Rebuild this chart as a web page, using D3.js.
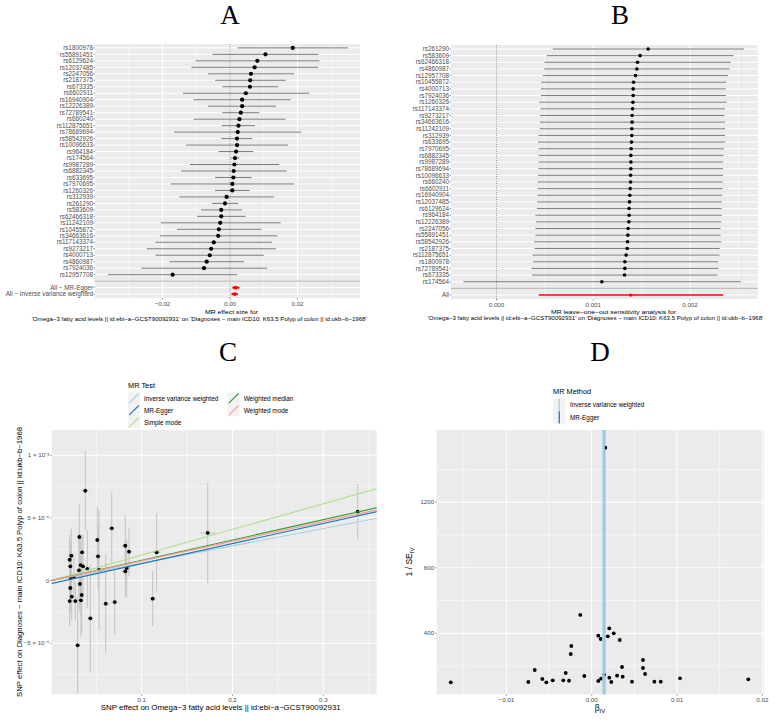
<!DOCTYPE html>
<html><head><meta charset="utf-8">
<script src="https://cdn.jsdelivr.net/npm/d3@7"></script>
<style>body{margin:0;background:#fff}svg{display:block}</style>
</head><body>
<svg id="chart" width="776" height="723"></svg>
<script>
// ---------------- DATA ----------------
// Panel A: single-SNP forest plot
const snpsA = ["rs1800978","rs55891451","rs6129624","rs12037485","rs2247056","rs2187375","rs673335","rs6602911","rs16940904","rs12226389","rs72789541","rs660240","rs112875651","rs78689694","rs58542926","rs10096633","rs964184","rs174564","rs9987289","rs6882345","rs633695","rs7970695","rs1260326","rs312939","rs261290","rs583609","rs62466318","rs11242109","rs10455872","rs34663616","rs117143374","rs9273217","rs4000713","rs4860987","rs7924036","rs12957708"];
const bA  = [0.0186,0.0105,0.0081,0.0073,0.0062,0.0060,0.0059,0.0047,0.0036,0.0036,0.0032,0.0028,0.0025,0.0023,0.0021,0.0021,0.0018,0.0015,0.0013,0.0011,0.0010,0.0007,0.0007,-0.0010,-0.0015,-0.0026,-0.0026,-0.0029,-0.0033,-0.0035,-0.0048,-0.0056,-0.0060,-0.0069,-0.0077,-0.0170];
const loA = [0.0023,-0.0052,-0.0102,-0.0114,-0.0065,-0.0044,-0.0023,-0.0139,-0.0108,-0.0065,-0.0023,-0.0108,-0.0024,-0.0166,-0.0026,-0.0130,-0.0034,0.0002,-0.0119,-0.0145,-0.0044,-0.0175,-0.0044,-0.0150,-0.0053,-0.0086,-0.0098,-0.0205,-0.0157,-0.0208,-0.0221,-0.0246,-0.0221,-0.0180,-0.0263,-0.0361];
const hiA = [0.0349,0.0262,0.0265,0.0261,0.0190,0.0165,0.0143,0.0234,0.0180,0.0136,0.0087,0.0165,0.0074,0.0211,0.0066,0.0172,0.0069,0.0028,0.0146,0.0168,0.0064,0.0190,0.0058,0.0131,0.0024,0.0036,0.0046,0.0150,0.0093,0.0140,0.0125,0.0136,0.0100,0.0042,0.0110,0.0021];
const allLabelsA = ["All \u2212 MR-Egger","All \u2212 Inverse variance weighted"];
const allBA  = [0.0016, 0.0014];
const allLoA = [0.0007, 0.00044];
const allHiA = [0.0028, 0.00234];
const ticksA = [-0.02, 0.00, 0.02];
const tickLabelsA = ["\u22120.02","0.00","0.02"];

// Panel B: leave-one-out
const snpsB = ["rs261290","rs583609","rs62466318","rs4860987","rs12957708","rs10455872","rs4000713","rs7924036","rs1260326","rs117143374","rs9273217","rs34663616","rs11242109","rs312939","rs633695","rs7970695","rs6882345","rs9987289","rs78689694","rs10096633","rs660240","rs6602911","rs16940904","rs12037485","rs6129624","rs964184","rs12226389","rs2247056","rs55891451","rs58542926","rs2187375","rs112875651","rs1800978","rs72789541","rs673335","rs174564"];
const bB  = [1.568,1.485,1.458,1.451,1.437,1.417,1.413,1.413,1.410,1.406,1.402,1.402,1.399,1.399,1.396,1.392,1.389,1.389,1.389,1.386,1.386,1.382,1.378,1.375,1.371,1.371,1.368,1.361,1.358,1.355,1.351,1.340,1.327,1.327,1.324,1.089].map(v=>v/1000);
const loB = [0.582,0.520,0.496,0.492,0.479,0.461,0.461,0.461,0.441,0.455,0.448,0.448,0.448,0.434,0.430,0.437,0.437,0.437,0.434,0.430,0.427,0.424,0.424,0.420,0.417,0.403,0.410,0.403,0.403,0.389,0.393,0.372,0.378,0.362,0.368,-0.341].map(v=>v/1000);
const hiB = [2.557,2.451,2.423,2.410,2.392,2.374,2.371,2.371,2.379,2.361,2.358,2.361,2.364,2.361,2.364,2.351,2.347,2.343,2.343,2.340,2.340,2.337,2.333,2.330,2.327,2.330,2.323,2.316,2.316,2.323,2.309,2.306,2.289,2.296,2.285,2.526].map(v=>v/1000);
const allLabelsB = ["All"];
const allBB = [0.001386], allLoB = [0.000437], allHiB = [0.002343];
const ticksB = [0.000, 0.001, 0.002];
const tickLabelsB = ["0.000","0.001","0.002"];

// Panel C: scatter (SNP effect on exposure vs outcome)
const bxC = [0.0379,0.0313,0.0511,0.0670,0.0207,0.0225,0.0214,0.0343,0.0328,0.0354,0.0309,0.0401,0.0519,0.0819,0.0860,0.0835,0.0819,0.1165,0.1727,0.3379,0.0218,0.0254,0.0530,0.0214,0.0320,0.0229,0.0339,0.0207,0.0269,0.0331,0.0604,0.0703,0.1121,0.0434,0.0295];
const byC = [7.17,3.48,3.24,4.17,1.67,1.99,1.14,2.26,1.24,1.14,0.82,0.93,1.94,2.78,2.31,1.00,0.74,2.26,3.80,5.50,0.23,0.31,0.85,-0.59,-0.27,-1.28,-1.15,-1.63,-1.63,-1.57,-1.84,-1.71,-1.44,-3.01,-5.16].map(v=>v/10000);
const seByC = [3.15,2.60,2.70,2.85,1.99,2.16,2.06,1.45,2.43,2.51,3.00,3.10,2.68,2.40,1.95,2.29,2.13,3.10,4.00,2.20,1.78,1.73,4.80,1.94,2.30,1.89,3.00,2.00,1.53,2.90,3.90,2.57,2.20,4.30,3.85].map(v=>v/10000);
const seBxC = [0.004,0.003,0.003,0.003,0.003,0.003,0.003,0.003,0.003,0.003,0.003,0.003,0.003,0.004,0.004,0.004,0.004,0.004,0.009,0.004,0.003,0.003,0.003,0.003,0.003,0.003,0.003,0.003,0.003,0.003,0.004,0.004,0.004,0.003,0.003];
const methodsC = ["Inverse variance weighted","MR-Egger","Simple mode","Weighted median","Weighted mode"];
const slopesC = [0.001385, 0.00160, 0.002043, 0.001621, 0.00157];
const interceptsC = [0, -0.000024, 0, 0, 0];
const colorsC = ["#A6CEE3","#1F78B4","#B2DF8A","#33A02C","#FB9A99"];
const ticksCx = [0.1,0.2,0.3];
const ticksCy = [0.001,0.0005,0,-0.0005];
const tickLabelsCy = ["1 \u00d7 10\u207b\u00b3","5 \u00d7 10\u207b\u2074","0","\u22125 \u00d7 10\u207b\u2074"];

// Panel D: funnel plot
const betaD = [-0.01652,-0.00743,-0.00668,-0.00579,-0.00532,-0.00457,-0.00333,-0.00305,-0.00266,-0.00246,-0.00239,-0.00134,-0.00087,0.00077,0.00105,0.00077,0.00109,0.00144,0.00188,0.00206,0.00206,0.00230,0.00258,0.00297,0.00328,0.00355,0.00363,0.00472,0.00601,0.00601,0.00625,0.00734,0.00809,0.01035,0.01835,0.00159];
const precD = [100.8,102.6,175.9,120.9,100.8,113,113,157.6,110.5,273.6,322.4,511.8,139.2,385.3,365.2,108.7,122.7,147.2,381.7,430.5,128.9,102.6,400,141.1,359.1,194.2,135,104.4,237,188.1,151.5,104.4,104.4,125.2,119.1,1533];
const methodsD = ["Inverse variance weighted","MR-Egger"];
const estD = [0.001386, 0.00150];
const colorsD = ["#A6CEE3","#1F78B4"];
const ticksDx = [-0.01,0.00,0.01,0.02];
const tickLabelsDx = ["\u22120.01","0.00","0.01","0.02"];
const ticksDy = [400,800,1200];

// ---------------- DRAWING ----------------
const FONT = "'Liberation Sans', Arial, Helvetica, sans-serif";
const svg = d3.select("#chart").attr("font-family", FONT);
const BG = "#EBEBEB", TXT = "#4D4D4D";

function title(t, x, y){
  svg.append("text").attr("x",x).attr("y",y).attr("text-anchor","middle")
    .attr("font-family","'Liberation Serif','Times New Roman',serif").attr("font-size",27).attr("fill","#000").text(t);
}
title("A",230,24); title("B",620,24); title("C",228,361); title("D",600,361);

function caption(text, x1, x2, y, fs){
  svg.append("text").attr("x",x1).attr("y",y).attr("font-size",fs).attr("fill","#000")
    .attr("textLength",x2-x1).attr("lengthAdjust","spacingAndGlyphs").text(text);
}

function forest(o){
  const g = svg.append("g");
  const x = d3.scaleLinear().domain(o.xdom).range([o.x0,o.x1]);
  const labels = o.snps.concat([""]).concat(o.allLabels);
  const y = d3.scalePoint().domain(labels).range([o.y0,o.y1]).padding(0.6);
  g.append("rect").attr("x",o.x0).attr("y",o.y0).attr("width",o.x1-o.x0).attr("height",o.y1-o.y0).attr("fill",BG);
  o.minors.forEach(v=>g.append("line").attr("x1",x(v)).attr("x2",x(v)).attr("y1",o.y0).attr("y2",o.y1).attr("stroke","#fff").attr("stroke-width",0.5));
  o.ticks.forEach(v=>g.append("line").attr("x1",x(v)).attr("x2",x(v)).attr("y1",o.y0).attr("y2",o.y1).attr("stroke","#fff").attr("stroke-width",1));
  labels.forEach(l=>g.append("line").attr("x1",o.x0).attr("x2",o.x1).attr("y1",y(l)).attr("y2",y(l)).attr("stroke","#fff").attr("stroke-width",1));
  g.append("line").attr("x1",x(0)).attr("x2",x(0)).attr("y1",o.y0).attr("y2",o.y1).attr("stroke","#555").attr("stroke-width",0.7).attr("stroke-dasharray","1,1.3");
  o.snps.forEach((s,i)=>{
    g.append("line").attr("x1",x(Math.max(o.lo[i],o.xdom[0]))).attr("x2",x(Math.min(o.hi[i],o.xdom[1]))).attr("y1",y(s)).attr("y2",y(s)).attr("stroke","#666").attr("stroke-width",0.85);
  });
  o.allLabels.forEach((s,i)=>{
    g.append("line").attr("x1",x(o.allLo[i])).attr("x2",x(o.allHi[i])).attr("y1",y(s)).attr("y2",y(s)).attr("stroke","#FF0000").attr("stroke-width",o.allW);
  });
  g.append("line").attr("x1",o.x0).attr("x2",o.x1).attr("y1",y("")).attr("y2",y("")).attr("stroke","#BEBEBE").attr("stroke-width",1.2);
  o.snps.forEach((s,i)=>g.append("circle").attr("cx",x(o.b[i])).attr("cy",y(s)).attr("r",o.r).attr("fill","#000"));
  o.allLabels.forEach((s,i)=>g.append("circle").attr("cx",x(o.allB[i])).attr("cy",y(s)).attr("r",o.r*0.9).attr("fill","#FF0000"));
  labels.forEach(l=>{
    if(l==="") return;
    g.append("text").attr("x",o.x0-2).attr("y",y(l)).attr("dy","0.35em").attr("text-anchor","end").attr("font-size",o.fs).attr("fill",TXT).text(l);
    g.append("line").attr("x1",o.x0-1.5).attr("x2",o.x0).attr("y1",y(l)).attr("y2",y(l)).attr("stroke","#333").attr("stroke-width",0.5);
  });
  o.ticks.forEach((v,i)=>{
    g.append("line").attr("x1",x(v)).attr("x2",x(v)).attr("y1",o.y1).attr("y2",o.y1+1.5).attr("stroke","#333").attr("stroke-width",0.5);
    g.append("text").attr("x",x(v)).attr("y",o.y1+8.3).attr("text-anchor","middle").attr("font-size",6.2).attr("fill",TXT).text(o.tickLabels[i]);
  });
  return {x,y};
}

forest({x0:95,x1:360,y0:44,y1:298,xdom:[-0.04,0.03852],snps:snpsA,b:bA,lo:loA,hi:hiA,
  allLabels:allLabelsA,allB:allBA,allLo:allLoA,allHi:allHiA,ticks:ticksA,tickLabels:tickLabelsA,
  minors:[-0.03,-0.01,0.01,0.03],r:2.1,allW:2,fs:6.3});
caption("MR effect size for",205,258,314.3,5.6);
caption("'Omega\u22123 fatty acid levels || id:ebi\u2212a\u2212GCST90092931' on 'Diagnoses \u2212 main ICD10: K63.5 Polyp of colon || id:ukb\u2212b\u22121968'",31.7,366.7,320.5,5.6);

forest({x0:451,x1:757.7,y0:45,y1:299,xdom:[-0.00047,0.00270],snps:snpsB,b:bB,lo:loB,hi:hiB,
  allLabels:allLabelsB,allB:allBB,allLo:allLoB,allHi:allHiB,ticks:ticksB,tickLabels:tickLabelsB,
  minors:[0.0005,0.0015,0.0025],r:1.8,allW:1.3,fs:6.3});
caption("MR leave\u2212one\u2212out sensitivity analysis for",551,676,313.8,5.6);
caption("'Omega\u22123 fatty acid levels || id:ebi\u2212a\u2212GCST90092931' on 'Diagnoses \u2212 main ICD10: K63.5 Polyp of colon || id:ukb\u2212b\u22121968'",427.7,763.3,320.3,5.6);

// ---------- Panel C ----------
(function(){
  const x0=51.7,x1=376.7,y0=430,y1=694.3;
  const g = svg.append("g");
  const x = d3.scaleLinear().domain([0.00088,0.3588]).range([x0,x1]);
  const y = d3.scaleLinear().domain([-0.000907,0.0012015]).range([y1,y0]);
  g.append("rect").attr("x",x0).attr("y",y0).attr("width",x1-x0).attr("height",y1-y0).attr("fill",BG);
  [0.05,0.15,0.25,0.35].forEach(v=>g.append("line").attr("x1",x(v)).attr("x2",x(v)).attr("y1",y0).attr("y2",y1).attr("stroke","#fff").attr("stroke-width",0.5));
  [0.00075,0.00025,-0.00025,-0.00075].forEach(v=>g.append("line").attr("x1",x0).attr("x2",x1).attr("y1",y(v)).attr("y2",y(v)).attr("stroke","#fff").attr("stroke-width",0.5));
  ticksCx.forEach(v=>g.append("line").attr("x1",x(v)).attr("x2",x(v)).attr("y1",y0).attr("y2",y1).attr("stroke","#fff").attr("stroke-width",1));
  ticksCy.forEach(v=>g.append("line").attr("x1",x0).attr("x2",x1).attr("y1",y(v)).attr("y2",y(v)).attr("stroke","#fff").attr("stroke-width",1));
  const clip = svg.append("clipPath").attr("id","clipC");
  clip.append("rect").attr("x",x0).attr("y",y0).attr("width",x1-x0).attr("height",y1-y0);
  const p = g.append("g").attr("clip-path","url(#clipC)");
  bxC.forEach((bx,i)=>{
    p.append("line").attr("x1",x(bx)).attr("x2",x(bx)).attr("y1",y(byC[i]-seByC[i])).attr("y2",y(byC[i]+seByC[i])).attr("stroke","#BEBEBE").attr("stroke-width",0.9);
    p.append("line").attr("x1",x(bx-seBxC[i])).attr("x2",x(bx+seBxC[i])).attr("y1",y(byC[i])).attr("y2",y(byC[i])).attr("stroke","#BEBEBE").attr("stroke-width",0.9);
  });
  bxC.forEach((bx,i)=>p.append("circle").attr("cx",x(bx)).attr("cy",y(byC[i])).attr("r",1.9).attr("fill","#000"));
  methodsC.forEach((m,i)=>{
    const xa=-0.01, xb=0.37;
    p.append("line").attr("x1",x(xa)).attr("x2",x(xb)).attr("y1",y(interceptsC[i]+slopesC[i]*xa)).attr("y2",y(interceptsC[i]+slopesC[i]*xb))
      .attr("stroke",colorsC[i]).attr("stroke-width",1.1);
  });
  ticksCx.forEach(v=>{
    g.append("line").attr("x1",x(v)).attr("x2",x(v)).attr("y1",y1).attr("y2",y1+1.5).attr("stroke","#333").attr("stroke-width",0.5);
    g.append("text").attr("x",x(v)).attr("y",y1+7.5).attr("text-anchor","middle").attr("font-size",6.2).attr("fill",TXT).text(v.toFixed(1));
  });
  ticksCy.forEach((v,i)=>{
    g.append("line").attr("x1",x0-1.5).attr("x2",x0).attr("y1",y(v)).attr("y2",y(v)).attr("stroke","#333").attr("stroke-width",0.5);
    g.append("text").attr("x",x0-2.5).attr("y",y(v)).attr("dy","0.35em").attr("text-anchor","end").attr("font-size",6.2).attr("fill",TXT).text(tickLabelsCy[i]);
  });
  caption("SNP effect on Omega\u22123 fatty acid levels || id:ebi\u2212a\u2212GCST90092931",100.7,340.7,710.3,7);
  g.append("text").attr("transform","translate(22,697) rotate(-90)").attr("font-size",7.3).attr("fill","#000")
    .attr("textLength",270).attr("lengthAdjust","spacingAndGlyphs")
    .text("SNP effect on Diagnoses \u2212 main ICD10: K63.5 Polyp of colon || id:ukb\u2212b\u22121968");
  g.append("text").attr("x",128).attr("y",388.3).attr("font-size",7.4).attr("fill","#000").text("MR Test");
  const pos = [[128,398.3],[128,410.3],[128,422.3],[227.7,398.3],[227.7,410.3]];
  methodsC.forEach((m,i)=>{
    const [kx,ky]=pos[i];
    g.append("rect").attr("x",kx).attr("y",ky-6).attr("width",12).attr("height",12).attr("fill","#F2F2F2");
    g.append("line").attr("x1",kx+1.2).attr("y1",ky+4.8).attr("x2",kx+10.8).attr("y2",ky-4.8).attr("stroke",colorsC[i]).attr("stroke-width",1.1);
    g.append("text").attr("x",kx+16).attr("y",ky).attr("dy","0.35em").attr("font-size",6.4).attr("fill","#000").text(m);
  });
})();

// ---------- Panel D ----------
(function(){
  const x0=436.7,x1=764,y0=430,y1=694.3;
  const g = svg.append("g");
  const x = d3.scaleLinear().domain([-0.01817,0.02019]).range([x0,x1]);
  const y = d3.scaleLinear().domain([27.5,1641]).range([y1,y0]);
  g.append("rect").attr("x",x0).attr("y",y0).attr("width",x1-x0).attr("height",y1-y0).attr("fill",BG);
  [-0.015,-0.005,0.005,0.015].forEach(v=>g.append("line").attr("x1",x(v)).attr("x2",x(v)).attr("y1",y0).attr("y2",y1).attr("stroke","#fff").attr("stroke-width",0.5));
  [200,600,1000,1400].forEach(v=>g.append("line").attr("x1",x0).attr("x2",x1).attr("y1",y(v)).attr("y2",y(v)).attr("stroke","#fff").attr("stroke-width",0.5));
  ticksDx.forEach(v=>g.append("line").attr("x1",x(v)).attr("x2",x(v)).attr("y1",y0).attr("y2",y1).attr("stroke","#fff").attr("stroke-width",1));
  ticksDy.forEach(v=>g.append("line").attr("x1",x0).attr("x2",x1).attr("y1",y(v)).attr("y2",y(v)).attr("stroke","#fff").attr("stroke-width",1));
  betaD.forEach((b,i)=>g.append("circle").attr("cx",x(b)).attr("cy",y(precD[i])).attr("r",1.9).attr("fill","#000"));
  g.append("line").attr("x1",x(estD[1])).attr("x2",x(estD[1])).attr("y1",y0).attr("y2",y1).attr("stroke",colorsD[1]).attr("stroke-width",1.6).attr("stroke-opacity",0.6);
  g.append("line").attr("x1",x(estD[0])).attr("x2",x(estD[0])).attr("y1",y0).attr("y2",y1).attr("stroke",colorsD[0]).attr("stroke-width",2.6).attr("stroke-opacity",0.9);
  ticksDx.forEach((v,i)=>{
    g.append("line").attr("x1",x(v)).attr("x2",x(v)).attr("y1",y1).attr("y2",y1+1.5).attr("stroke","#333").attr("stroke-width",0.5);
    g.append("text").attr("x",x(v)).attr("y",y1+7.5).attr("text-anchor","middle").attr("font-size",6.2).attr("fill",TXT).text(tickLabelsDx[i]);
  });
  ticksDy.forEach(v=>{
    g.append("line").attr("x1",x0-1.5).attr("x2",x0).attr("y1",y(v)).attr("y2",y(v)).attr("stroke","#333").attr("stroke-width",0.5);
    g.append("text").attr("x",x0-2.5).attr("y",y(v)).attr("dy","0.35em").attr("text-anchor","end").attr("font-size",6.2).attr("fill",TXT).text(v);
  });
  const xt = g.append("text").attr("x",600).attr("y",711).attr("text-anchor","middle").attr("font-size",8.5).attr("fill","#000");
  xt.append("tspan").text("\u03b2");
  xt.append("tspan").attr("font-size",6).attr("dy",2).text("IV");
  const yt = g.append("text").attr("transform","translate(412,562) rotate(-90)").attr("text-anchor","middle").attr("font-size",8.5).attr("fill","#000");
  yt.append("tspan").text("1 / SE");
  yt.append("tspan").attr("font-size",6).attr("dy",2).text("IV");
  g.append("text").attr("x",553).attr("y",394.3).attr("font-size",7.4).attr("fill","#000").text("MR Method");
  methodsD.forEach((m,i)=>{
    const kx=553, ky=405+i*12.3;
    g.append("rect").attr("x",kx).attr("y",ky-6).attr("width",12.5).attr("height",12.3).attr("fill","#F2F2F2");
    g.append("line").attr("x1",kx+6.25).attr("x2",kx+6.25).attr("y1",ky-6).attr("y2",ky+6.3).attr("stroke",colorsD[i]).attr("stroke-width",1.3);
    g.append("text").attr("x",kx+17).attr("y",ky).attr("dy","0.35em").attr("font-size",6.4).attr("fill","#000").text(m);
  });
})();
</script>
</body></html>
